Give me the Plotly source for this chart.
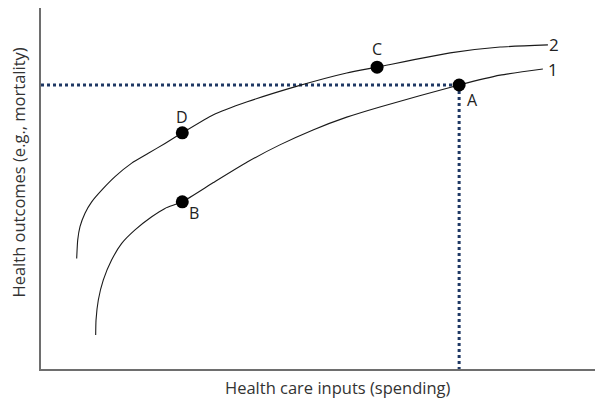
import plotly.graph_objects as go

# Curve 2 (upper production function)
curve2_x = [6.35, 6.53, 6.94, 7.83, 9.02, 10.8, 13.17, 16.14, 19.09, 22.06, 25.14,
            30.6, 36.7, 45.6, 54.4, 59.8, 72.8, 81.7, 90.2]
curve2_y = [30.3, 35.3, 39.0, 42.7, 45.8, 49.0, 52.7, 56.4, 59.1, 61.8, 64.7,
            69.6, 73.2, 77.5, 81.1, 82.7, 86.6, 88.2, 88.8]

# Curve 1 (lower production function)
curve1_x = [9.73, 9.79, 10.2, 11.09, 12.58, 14.36, 16.73, 19.7, 22.06, 25.14,
            30.6, 36.7, 42.5, 48.4, 54.4, 60.3, 74.4, 81.7, 89.3]
curve1_y = [9.3, 13.4, 18.9, 24.4, 29.9, 34.4, 38.1, 41.7, 44.0, 45.8,
            51.0, 56.7, 61.4, 65.5, 69.0, 71.8, 77.8, 80.5, 82.2]

# Labelled points
point_labels = ["A", "B", "C", "D"]
point_x = [74.4, 25.14, 59.8, 25.14]
point_y = [77.8, 45.8, 82.7, 64.7]

curve_labels = ["2", "1"]

x_title = "Health care inputs (spending)"
y_title = "Health outcomes (e.g., mortality)"

FONT = "'Open Sans', sans-serif"

fig = go.Figure()

# Dotted reference lines through A
ax, ay = point_x[0], point_y[0]
fig.add_trace(go.Scatter(x=[0, ax], y=[ay, ay], mode="lines",
                         line=dict(color="#1f3864", width=3, dash="dot"),
                         hoverinfo="skip", showlegend=False))
fig.add_trace(go.Scatter(x=[ax, ax], y=[ay, 0], mode="lines",
                         line=dict(color="#1f3864", width=3, dash="dot"),
                         hoverinfo="skip", showlegend=False))

for cx, cy in [(curve2_x, curve2_y), (curve1_x, curve1_y)]:
    fig.add_trace(go.Scatter(x=cx, y=cy, mode="lines", line_shape="spline",
                             line=dict(color="#1a1a1a", width=1.1, smoothing=0.5),
                             showlegend=False))

fig.add_trace(go.Scatter(x=point_x, y=point_y, mode="markers",
                         marker=dict(color="black", size=13), showlegend=False))

label_shift = {"A": (13, -15), "B": (12, -11), "C": (0, 18), "D": (0, 16)}
for lab, px, py in zip(point_labels, point_x, point_y):
    dx, dy = label_shift[lab]
    fig.add_annotation(x=px, y=py, text=lab, showarrow=False, xshift=dx, yshift=dy,
                       font=dict(family=FONT, size=16, color="#222"))

ends = [(curve2_x[-1], curve2_y[-1], 6, 0), (curve1_x[-1], curve1_y[-1], 10, -1)]
for lab, (ex, ey, dx, dy) in zip(curve_labels, ends):
    fig.add_annotation(x=ex, y=ey, text=lab, showarrow=False, xshift=dx, yshift=dy,
                       font=dict(family=FONT, size=17, color="#222"))

fig.add_annotation(xref="paper", yref="paper", x=0.528, y=-0.0526, text=x_title,
                   xanchor="center", yanchor="middle",
                   showarrow=False, font=dict(family=FONT, size=16.5, color="#333"))
fig.add_annotation(xref="paper", yref="paper", x=-0.040, y=0.543, text=y_title,
                   xanchor="center", yanchor="middle", borderpad=0,
                   textangle=-90, showarrow=False, font=dict(family=FONT, size=16.5, color="#333"))

fig.update_layout(
    width=603, height=402,
    margin=dict(l=33, r=8, t=0, b=41, autoexpand=False),
    plot_bgcolor="white", paper_bgcolor="white",
    xaxis=dict(range=[0, 100], showgrid=False, zeroline=False, showticklabels=False,
               ticks="", showline=True, linecolor="#6e6e6e", linewidth=2),
    yaxis=dict(range=[0, 98.9], showgrid=False, zeroline=False, showticklabels=False,
               ticks="", showline=True, linecolor="#6e6e6e", linewidth=2),
)

fig.write_html("out.html")
